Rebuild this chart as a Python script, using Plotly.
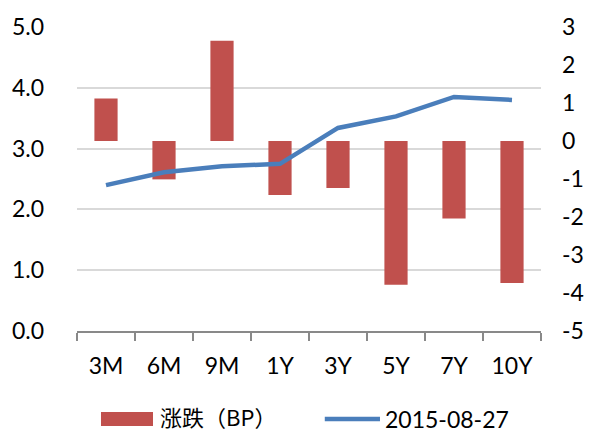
import plotly.graph_objects as go

categories = ["3M", "6M", "9M", "1Y", "3Y", "5Y", "7Y", "10Y"]
change_bp = [1.12, -1.01, 2.64, -1.42, -1.24, -3.78, -2.04, -3.74]
yield_0827 = [2.40, 2.61, 2.71, 2.75, 3.34, 3.53, 3.85, 3.80]
left_ticks = [0, 1, 2, 3, 4, 5]
right_ticks = [-5, -4, -3, -2, -1, 0, 1, 2, 3]

BAR_COLOR = "#C0504D"
LINE_COLOR = "#4A7EBB"
FONT = "Lato, 'Noto Sans CJK SC', sans-serif"

fig = go.Figure()
fig.add_trace(go.Bar(x=categories, y=change_bp, name="涨跌（BP）", marker_color=BAR_COLOR,
                     marker_line_width=0, width=0.4, yaxis="y", showlegend=False))
fig.add_trace(go.Scatter(x=categories, y=yield_0827, name="2015-08-27", mode="lines",
                         line=dict(color=LINE_COLOR, width=4.5), yaxis="y2", showlegend=False))

fig.update_layout(
    template="none",
    width=585, height=424,
    margin=dict(l=69, r=52, t=19, b=101, autoexpand=False),
    paper_bgcolor="white", plot_bgcolor="white",
    font=dict(family=FONT, size=23, color="#000000"),
    xaxis=dict(type="category", automargin=False, showline=True, linecolor="#898989",
               linewidth=1.5, ticks="outside", tickson="boundaries", ticklen=8,
               tickcolor="#898989", tickwidth=1.5, showgrid=False, ticklabelstandoff=14,
               tickfont=dict(family=FONT, size=23)),
    yaxis=dict(side="right", automargin=False, range=[-5, 3], tickvals=right_ticks,
               ticktext=[str(v) for v in right_ticks], showgrid=False, ticks="",
               zeroline=False, showline=False, ticklabelstandoff=20,
               tickfont=dict(family=FONT, size=23)),
    yaxis2=dict(side="left", overlaying="y", automargin=False, range=[0, 5],
                tickvals=left_ticks, tickformat=".1f", showgrid=True, gridcolor="#D9D9D9",
                gridwidth=1.5, ticks="", zeroline=False, showline=False,
                ticklabelstandoff=32, tickfont=dict(family=FONT, size=23)),
    bargap=0.6,
)

# legend drawn manually
fig.add_shape(type="rect", xref="paper", yref="paper", x0=0.0517, x1=0.1638,
              y0=-0.3125, y1=-0.2664, fillcolor=BAR_COLOR, line_width=0)
fig.add_annotation(xref="paper", yref="paper", x=0.1767, y=-0.280, xanchor="left",
                   yanchor="middle", text="涨跌（BP）", showarrow=False, borderpad=0,
                   font=dict(family="'Noto Sans CJK SC', Lato, sans-serif", size=22))
fig.add_shape(type="line", xref="paper", yref="paper", x0=0.534, x1=0.653,
              y0=-0.2895, y1=-0.2895, line=dict(color=LINE_COLOR, width=4.5))
fig.add_annotation(xref="paper", yref="paper", x=0.6616, y=-0.2895, xanchor="left",
                   yanchor="middle", text="2015-08-27", showarrow=False, borderpad=0,
                   font=dict(family=FONT, size=23))

fig.write_html("out.html")
